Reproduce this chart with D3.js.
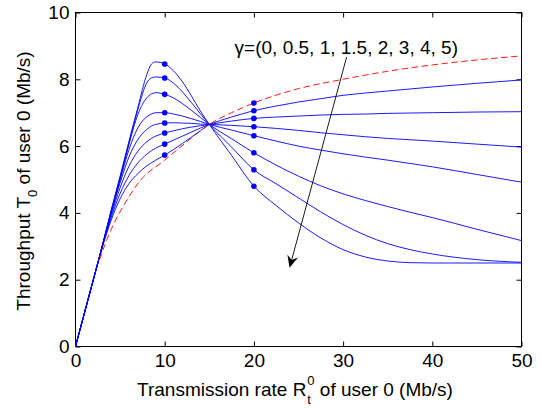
<!DOCTYPE html>
<html>
<head>
<meta charset="utf-8">
<script src="https://cdn.jsdelivr.net/npm/d3@7"></script>
<style>
  body { margin: 0; background: #fff; }
  text { font-family: "Liberation Sans", Arial, sans-serif; }
</style>
</head>
<body>
<div id="container"></div>
<script>
// transmission rate grid (Mb/s)
const rates = [0, 2, 3, 4, 5, 6, 7, 8, 8.5, 9, 10, 11, 12, 13, 14, 15,
  17.5, 20, 22.5, 25, 27.5, 30, 32.5, 35, 37.5, 40, 45, 50];

// throughput per gamma (null = not drawn)
const tG0 = [0, 2, 2.96, 3.78, 4.42, 4.88, 5.18, 5.41, 5.5, 5.58, 5.73, 5.9, 6.08, 6.27, 6.46, 6.65,
  null, null, null, null, null, null, null, null, null, null, null, null];
const tG05 = [0, 2, 2.98, 3.86, 4.58, 5.12, 5.5, 5.76, 5.86, 5.94, 6.06, 6.18, 6.3, 6.42, 6.54, 6.65,
  6.87, 7.06, 7.2, 7.32, 7.42, 7.52, 7.59, 7.65, 7.71, 7.77, 7.88, 7.98];
const tG1 = [0, 2, 3.0, 3.93, 4.75, 5.4, 5.85, 6.13, 6.23, 6.3, 6.39, 6.46, 6.52, 6.57, 6.61, 6.65,
  6.75, 6.83, 6.87, 6.9, 6.93, 6.95, 6.96, 6.98, 6.99, 7.0, 7.02, 7.03];
const tG15 = [0, 2, 3.0, 4.0, 4.9, 5.68, 6.2, 6.5, 6.6, 6.65, 6.69, 6.7, 6.69, 6.68, 6.66, 6.65,
  6.62, 6.58, 6.53, 6.47, 6.4, 6.34, 6.28, 6.23, 6.19, 6.15, 6.06, 5.97];
const tG2 = [0, 2, 3.0, 4.02, 4.98, 5.9, 6.55, 6.88, 6.96, 7.0, 7.0, 6.96, 6.9, 6.82, 6.74, 6.65,
  6.48, 6.31, 6.15, 6.0, 5.88, 5.77, 5.67, 5.58, 5.48, 5.38, 5.15, 4.92];
const tG3 = [0, 2, 3.0, 4.04, 5.03, 6.06, 6.95, 7.45, 7.56, 7.6, 7.55, 7.44, 7.27, 7.07, 6.86, 6.65,
  6.22, 5.8, 5.43, 5.1, 4.81, 4.57, 4.37, 4.19, 4.02, 3.86, 3.51, 3.17];
const tG4 = [0, 2, 3.01, 4.06, 5.06, 6.1, 7.1, 7.9, 8.04, 8.07, 8.04, 7.88, 7.62, 7.3, 6.97, 6.65,
  5.97, 5.29, 4.87, 4.45, 4.03, 3.65, 3.33, 3.08, 2.9, 2.77, 2.6, 2.52];
const tG5 = [0, 2, 3.02, 4.08, 5.1, 6.15, 7.17, 8.15, 8.45, 8.52, 8.46, 8.25, 7.92, 7.5, 7.05, 6.65,
  5.72, 4.8, 4.22, 3.7, 3.25, 2.9, 2.68, 2.56, 2.51, 2.5, 2.5, 2.5];

// red dashed reference curve
const refRates = [2.7, 3.3, 4.2, 5.35, 7.2, 10, 12.5, 15, 17.5, 20, 25, 30, 35, 40, 45, 50];
const refThroughput = [2.6, 3.05, 3.62, 4.2, 4.95, 5.58, 6.13, 6.65, 7.0, 7.29, 7.72, 8.0, 8.24, 8.43, 8.58, 8.7];

// marked points at R = 10 and R = 20
const dotRates = [10, 20];
const dotsAt10 = [5.73, 6.06, 6.39, 6.69, 7.0, 7.55, 8.04, 8.46];
const dotsAt20 = [7.29, 7.06, 6.83, 6.58, 6.31, 5.8, 5.29, 4.8];

const xTicks = [0, 10, 20, 30, 40, 50];
const yTicks = [0, 2, 4, 6, 8, 10];
const gammaLabel = "\u03b3=(0, 0.5, 1, 1.5, 2, 3, 4, 5)";
const arrowFrom = [30.4, 8.67];
const arrowTo = [24.0, 2.36];

const w = 541;
const h = 408;
const pLeft = 75.5, pRight = 521.5, pTop = 12.5, pBottom = 346.5;

const xScale = d3.scaleLinear().domain([0, 50]).range([pLeft, pRight]);
const yScale = d3.scaleLinear().domain([0, 10]).range([pBottom, pTop]);

const svg = d3.select("#container")
  .append("svg")
  .attr("width", w)
  .attr("height", h)
  .style("background-color", "#fff");

// axes
const styleAxis = (g) => {
  g.select(".domain").remove();
  g.attr("font-family", "Liberation Sans, Arial, sans-serif").attr("font-size", 19);
  g.selectAll(".tick line").attr("stroke", "#000");
  g.selectAll(".tick text").attr("fill", "#000");
};

svg.append("g")
  .attr("transform", `translate(0,${pBottom})`)
  .call(d3.axisBottom(xScale).tickValues(xTicks).tickSizeInner(-5).tickSizeOuter(0).tickPadding(7))
  .call(styleAxis);

svg.append("g")
  .attr("transform", `translate(${pLeft},0)`)
  .call(d3.axisLeft(yScale).tickValues(yTicks).tickSizeInner(-5).tickSizeOuter(0).tickPadding(6))
  .call(styleAxis);

svg.append("g")
  .attr("transform", `translate(0,${pTop})`)
  .call(d3.axisTop(xScale).tickValues(xTicks).tickSizeInner(-5).tickSizeOuter(0).tickFormat(""))
  .call(styleAxis);

svg.append("g")
  .attr("transform", `translate(${pRight},0)`)
  .call(d3.axisRight(yScale).tickValues(yTicks).tickSizeInner(-5).tickSizeOuter(0).tickFormat(""))
  .call(styleAxis);

svg.append("rect")
  .attr("x", pLeft).attr("y", pTop)
  .attr("width", pRight - pLeft).attr("height", pBottom - pTop)
  .attr("fill", "none").attr("stroke", "#000").attr("stroke-width", 1);

// curves
const series = [tG0, tG05, tG1, tG15, tG2, tG3, tG4, tG5];
const line = d3.line()
  .defined(d => d[1] !== null)
  .x(d => xScale(d[0]))
  .y(d => yScale(d[1]))
  .curve(d3.curveMonotoneX);

svg.append("g")
  .selectAll("path")
  .data(series)
  .enter()
  .append("path")
  .attr("d", s => line(rates.map((r, i) => [r, s[i]])))
  .attr("fill", "none")
  .attr("stroke", "#0000ff")
  .attr("stroke-width", 0.9);

svg.append("path")
  .attr("d", line(refRates.map((r, i) => [r, refThroughput[i]])))
  .attr("fill", "none")
  .attr("stroke", "#ff0000")
  .attr("stroke-width", 0.9)
  .attr("stroke-dasharray", "6.5,3.5");

const dots = [];
dotsAt10.forEach(v => dots.push([dotRates[0], v]));
dotsAt20.forEach(v => dots.push([dotRates[1], v]));

svg.append("g")
  .selectAll("circle")
  .data(dots)
  .enter()
  .append("circle")
  .attr("cx", d => xScale(d[0]))
  .attr("cy", d => yScale(d[1]))
  .attr("r", 2.8)
  .attr("fill", "#0000ff");

// annotation arrow
const ax1 = xScale(arrowFrom[0]), ay1 = yScale(arrowFrom[1]);
const ax2 = xScale(arrowTo[0]), ay2 = yScale(arrowTo[1]);
const ang = Math.atan2(ay2 - ay1, ax2 - ax1);
const headLen = 12, headW = 5.5, notch = 8;
const ux = Math.cos(ang), uy = Math.sin(ang);
const px = -uy, py = ux;

svg.append("line")
  .attr("x1", ax1).attr("y1", ay1)
  .attr("x2", ax2 - ux * notch).attr("y2", ay2 - uy * notch)
  .attr("stroke", "#000")
  .attr("stroke-width", 0.9);

svg.append("path")
  .attr("d", `M${ax2},${ay2}` +
    `L${ax2 - ux * headLen + px * headW},${ay2 - uy * headLen + py * headW}` +
    `L${ax2 - ux * notch},${ay2 - uy * notch}` +
    `L${ax2 - ux * headLen - px * headW},${ay2 - uy * headLen - py * headW}Z`)
  .attr("fill", "#000");

svg.append("text")
  .attr("x", 458)
  .attr("y", 53.5)
  .attr("font-size", 19)
  .attr("text-anchor", "end")
  .attr("fill", "#000")
  .text(gammaLabel);

// x label with stacked super/subscript
const xl = svg.append("text").attr("font-size", 19).attr("fill", "#000");
const xa = xl.append("tspan").attr("y", 396).text("Transmission rate R");
const xsup = xl.append("tspan").attr("font-size", 13).attr("y", 385).text("0");
const xsub = xl.append("tspan").attr("font-size", 13).attr("y", 404).text("t");
const xb = xl.append("tspan").attr("y", 396).text(" of user 0 (Mb/s)");
const wa = xa.node().getComputedTextLength();
const wsc = Math.max(xsup.node().getComputedTextLength(), xsub.node().getComputedTextLength());
const wb = xb.node().getComputedTextLength();
const x0 = 295 - (wa + wsc + wb + 1) / 2;
xa.attr("x", x0);
xsup.attr("x", x0 + wa + 1);
xsub.attr("x", x0 + wa + 1);
xb.attr("x", x0 + wa + 1 + wsc);

// y label with subscript
const yl = svg.append("text")
  .attr("font-size", 19)
  .attr("fill", "#000")
  .attr("transform", "translate(30,181) rotate(-90)");
const ya = yl.append("tspan").attr("y", 0).text("Throughput T");
const ysub = yl.append("tspan").attr("font-size", 13).attr("y", 7).text("0");
const yb = yl.append("tspan").attr("y", 0).text(" of user 0 (Mb/s)");
const ywa = ya.node().getComputedTextLength();
const yws = ysub.node().getComputedTextLength();
const ywb = yb.node().getComputedTextLength();
const y0 = -(ywa + yws + ywb) / 2;
ya.attr("x", y0);
ysub.attr("x", y0 + ywa);
yb.attr("x", y0 + ywa + yws);
</script>
</body>
</html>
